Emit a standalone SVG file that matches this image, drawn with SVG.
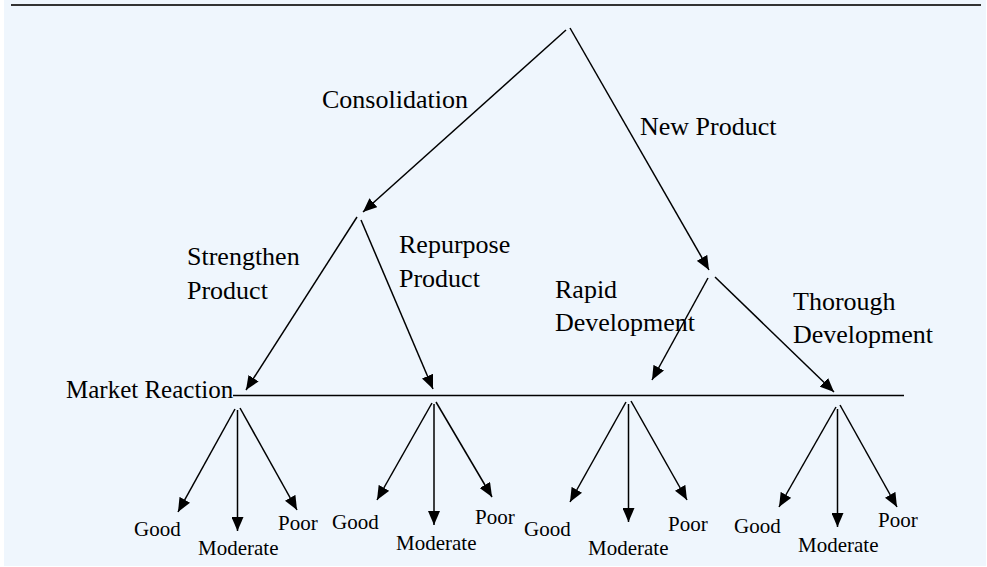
<svg xmlns="http://www.w3.org/2000/svg" width="987" height="567" viewBox="0 0 987 567">
<defs>
<marker id="ah" markerUnits="userSpaceOnUse" markerWidth="14" markerHeight="12" refX="14" refY="6" orient="auto">
<path d="M0,0 L14,6 L0,12 z" fill="#000"/>
</marker>
<style>
.bg{fill:#eff6fd}
.ln{stroke:#000;stroke-width:1.5;fill:none}
.ar{stroke:#000;stroke-width:1.5;fill:none;marker-end:url(#ah)}
.lb{font-size:26px;fill:#000}
.mr{font-size:25px;fill:#000}
.lf{font-size:21px;fill:#000}
</style>
</defs>
<rect class="bg" x="4" y="0" width="982" height="566"/>
<line x1="11" y1="5" x2="981" y2="5" stroke="#333" stroke-width="2"/>
<g id="connectors">
<line class="ar" x1="566" y1="30" x2="363" y2="212"/>
<line class="ar" x1="570" y1="28" x2="709" y2="270"/>
<line class="ar" x1="357" y1="217" x2="246" y2="390"/>
<line class="ar" x1="361" y1="220" x2="433" y2="389"/>
<line class="ar" x1="708" y1="278" x2="652" y2="380"/>
<line class="ar" x1="715" y1="277" x2="834" y2="392"/>
<line class="ln" x1="233" y1="395.5" x2="904" y2="395.5"/>
<line class="ar" x1="235" y1="409" x2="178" y2="512"/>
<line class="ar" x1="237.5" y1="410" x2="237.5" y2="531"/>
<line class="ar" x1="240" y1="408" x2="297" y2="510"/>
<line class="ar" x1="432" y1="403" x2="377" y2="500"/>
<line class="ar" x1="434" y1="404" x2="434" y2="525"/>
<line class="ar" x1="436" y1="402" x2="492" y2="497"/>
<line class="ar" x1="626" y1="402" x2="570" y2="502"/>
<line class="ar" x1="628.5" y1="404" x2="628.5" y2="522"/>
<line class="ar" x1="631" y1="401" x2="687" y2="500"/>
<line class="ar" x1="836" y1="407" x2="779" y2="507"/>
<line class="ar" x1="837.5" y1="409" x2="837.5" y2="527"/>
<line class="ar" x1="840" y1="405" x2="897" y2="507"/>
</g>
<g font-family="'Liberation Serif', 'DejaVu Serif', serif">
<g id="branch-labels">
<text class="lb" x="322" y="108">Consolidation</text>
<text class="lb" x="640" y="135">New Product</text>
<text class="lb" x="187" y="265">Strengthen</text>
<text class="lb" x="187" y="299">Product</text>
<text class="lb" x="399" y="253">Repurpose</text>
<text class="lb" x="399" y="287">Product</text>
<text class="lb" x="555" y="298">Rapid</text>
<text class="lb" x="555" y="331">Development</text>
<text class="lb" x="793" y="310">Thorough</text>
<text class="lb" x="793" y="343">Development</text>
</g>
<g id="market-reaction">
<text class="mr" x="66" y="398">Market Reaction</text>
</g>
<g id="leaf-1">
<text class="lf" x="134" y="536">Good</text>
<text class="lf" x="198" y="555">Moderate</text>
<text class="lf" x="278" y="530">Poor</text>
</g>
<g id="leaf-2">
<text class="lf" x="332" y="529">Good</text>
<text class="lf" x="396" y="550">Moderate</text>
<text class="lf" x="475" y="524">Poor</text>
</g>
<g id="leaf-3">
<text class="lf" x="524" y="536">Good</text>
<text class="lf" x="588" y="555">Moderate</text>
<text class="lf" x="668" y="531">Poor</text>
</g>
<g id="leaf-4">
<text class="lf" x="734" y="533">Good</text>
<text class="lf" x="798" y="552">Moderate</text>
<text class="lf" x="878" y="527">Poor</text>
</g>
</g>
</svg>
